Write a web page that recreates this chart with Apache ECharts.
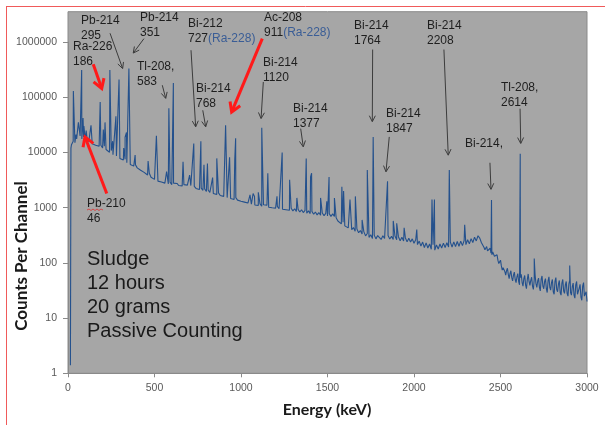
<!DOCTYPE html>
<html>
<head>
<meta charset="utf-8">
<script src="https://cdn.jsdelivr.net/npm/echarts@6/dist/echarts.min.js"></script>
<style>
  html, body { margin: 0; padding: 0; background: #ffffff; }
  #chart { width: 605px; height: 425px; }
</style>
</head>
<body>
<div id="chart"></div>
<script>
// Gamma spectrum of a sludge sample, 12 h passive count.
// Continuum sampled every 10 keV (counts per channel).
const continuumKeV = [
  14, 17, 20, 30, 40, 50, 60, 70, 80, 90, 100, 110, 120, 130, 140, 150, 160, 170, 180, 190,
  200, 210, 220, 230, 240, 250, 260, 270, 280, 290, 300, 310, 320, 330, 340, 350, 360, 370, 380, 390,
  400, 410, 420, 430, 440, 450, 460, 470, 480, 490, 500, 510, 520, 530, 540, 550, 560, 570, 580, 590,
  600, 610, 620, 630, 640, 650, 660, 670, 680, 690, 700, 710, 720, 730, 740, 750, 760, 770, 780, 790,
  800, 810, 820, 830, 840, 850, 860, 870, 880, 890, 900, 910, 920, 930, 940, 950, 960, 970, 980, 990,
  1000, 1010, 1020, 1030, 1040, 1050, 1060, 1070, 1080, 1090, 1100, 1110, 1120, 1130, 1140, 1150, 1160, 1170, 1180, 1190,
  1200, 1210, 1220, 1230, 1240, 1250, 1260, 1270, 1280, 1290, 1300, 1310, 1320, 1330, 1340, 1350, 1360, 1370, 1380, 1390,
  1400, 1410, 1420, 1430, 1440, 1450, 1460, 1470, 1480, 1490, 1500, 1510, 1520, 1530, 1540, 1550, 1560, 1570, 1580, 1590,
  1600, 1610, 1620, 1630, 1640, 1650, 1660, 1670, 1680, 1690, 1700, 1710, 1720, 1730, 1740, 1750, 1760, 1770, 1780, 1790,
  1800, 1810, 1820, 1830, 1840, 1850, 1860, 1870, 1880, 1890, 1900, 1910, 1920, 1930, 1940, 1950, 1960, 1970, 1980, 1990,
  2000, 2010, 2020, 2030, 2040, 2050, 2060, 2070, 2080, 2090, 2100, 2110, 2120, 2130, 2140, 2150, 2160, 2170, 2180, 2190,
  2200, 2210, 2220, 2230, 2240, 2250, 2260, 2270, 2280, 2290, 2300, 2310, 2320, 2330, 2340, 2350, 2360, 2370, 2380, 2390,
  2400, 2410, 2420, 2430, 2440, 2450, 2460, 2470, 2480, 2490, 2500, 2510, 2520, 2530, 2540, 2550, 2560, 2570, 2580, 2590,
  2600, 2610, 2620, 2630, 2640, 2650, 2660, 2670, 2680, 2690, 2700, 2710, 2720, 2730, 2740, 2750, 2760, 2770, 2780, 2790,
  2800, 2810, 2820, 2830, 2840, 2850, 2860, 2870, 2880, 2890, 2900, 2910, 2920, 2930, 2940, 2950, 2960, 2970, 2980, 2990,
  3000
];
const continuumCounts = [
  1.4, 12000, 13800, 15900, 15000, 17600, 17400, 19900, 17600, 19100, 16800, 18100, 15700, 16300, 14300, 15000, 13500, 14300, 12900, 13500,
  12100, 12900, 11300, 11700, 10100, 10800, 9100, 9800, 8600, 9200, 7800, 8200, 7300, 7500, 6500, 7000, 6050, 6500, 5650, 6000,
  5250, 5600, 4750, 5150, 4350, 4650, 3900, 4200, 3550, 3750, 3250, 3400, 3020, 3250, 2910, 3100, 2780, 3000, 2690, 2890,
  2620, 2780, 2600, 2740, 2520, 2690, 2480, 2610, 2430, 2560, 2360, 2510, 2310, 2430, 2230, 2350, 2130, 2260, 2060, 2180,
  1970, 2090, 1890, 2010, 1810, 1930, 1730, 1850, 1660, 1770, 1600, 1680, 1520, 1630, 1460, 1580, 1410, 1520, 1370, 1460,
  1310, 1410, 1260, 1360, 1210, 1310, 1160, 1250, 1120, 1210, 1090, 1170, 1060, 1130, 1040, 1110, 1020, 1090, 995, 1075,
  980, 1055, 955, 1035, 935, 1010, 915, 990, 895, 975, 875, 955, 855, 930, 835, 915, 815, 890, 795, 875,
  780, 855, 760, 835, 740, 815, 728, 800, 716, 790, 706, 780, 694, 770, 690, 655, 572, 590, 508, 545,
  468, 505, 430, 462, 398, 436, 372, 410, 352, 386, 332, 368, 308, 340, 290, 322, 276, 318, 272, 312,
  305, 266, 310, 276, 262, 314, 270, 302, 266, 306, 262, 298, 252, 290, 248, 286, 240, 280, 238, 272,
  226, 262, 214, 248, 202, 238, 190, 230, 186, 220, 176, 214, 170, 212, 178, 220, 186, 228, 190, 232,
  194, 238, 194, 240, 197, 244, 200, 248, 205, 255, 214, 262, 221, 275, 234, 292, 250, 310, 280, 232,
  214, 172, 198, 152, 184, 140, 168, 124, 140, 97, 112, 74, 88, 60, 80, 52, 72, 47, 68, 44,
  64, 40, 62, 38, 59, 34, 63, 39, 55, 33, 60, 36, 53, 31, 58, 34, 52, 29, 56, 32,
  50, 27, 54, 30, 48, 26, 50, 28, 46, 25, 48, 26, 43, 23, 46, 25, 41, 21, 44, 23,
  20
];
// Extra half-step channels across the noisy high-energy tail
const tailKeV = [
  2405, 2415, 2425, 2435, 2445, 2455, 2465, 2475, 2485, 2495, 2505, 2515, 2525, 2535, 2545, 2555, 2565, 2575, 2585, 2595,
  2605, 2615, 2625, 2635, 2645, 2655, 2665, 2675, 2685, 2695, 2705, 2715, 2725, 2735, 2745, 2755, 2765, 2775, 2785, 2795,
  2805, 2815, 2825, 2835, 2845, 2855, 2865, 2875, 2885, 2895, 2905, 2915, 2925, 2935, 2945, 2955, 2965, 2975, 2985, 2995
];
const tailCounts = [
  190, 186, 165, 170, 150, 158, 132, 138, 112, 104, 88, 82, 70, 72, 62, 64, 54, 60, 50, 56,
  46, 54, 44, 52, 40, 50, 46, 48, 38, 50, 42, 47, 36, 50, 38, 46, 34, 47, 36, 44,
  30, 46, 33, 41, 29, 43, 31, 40, 28, 41, 29, 37, 26, 40, 27, 35, 24, 38, 25, 30
];

// Photopeaks: energy (keV) and peak height (counts per channel)
const peakKeV = [
  31, 46, 60, 75, 79, 87, 92, 105, 133, 186, 204, 214, 242, 258, 277, 295, 322, 330, 338, 352,
  388, 463, 511, 570, 583, 609, 665, 703, 727, 768, 786, 806, 836, 860, 911, 934, 964, 969,
  1052, 1070, 1078, 1100, 1120, 1155, 1208, 1238, 1281, 1323, 1377, 1402, 1408, 1460, 1496, 1509,
  1540, 1583, 1593, 1630, 1661, 1700, 1730, 1764, 1847, 1880, 1900, 1943, 2016, 2104, 2118, 2204, 2293,
  2448, 2614, 2695, 2900
];
const peakCounts = [
  130000, 21000, 35000, 90000, 310000, 42000, 30000, 25000, 31000, 82000, 26000, 35000, 310000, 16000, 45000, 210000, 12000, 19000, 23000, 330000,
  9000, 7000, 20000, 4500, 63000, 180000, 6800, 3900, 14500, 16000, 6000, 6300, 3500, 7800, 31000, 8200, 7500, 18000,
  1700, 1800, 1600, 1900, 28000, 4200, 1600, 10000, 3200, 1500, 7800, 3600, 4200, 1500, 1300, 3600,
  1500, 2400, 2000, 1400, 1600, 600, 4800, 19000, 3000, 575, 520, 430, 400, 1400, 1400, 4800, 490,
  1380, 9500, 120, 90
];

// Axis tick labels
const xTickValues = [0, 500, 1000, 1500, 2000, 2500, 3000];
const xTickLabels = ['0', '500', '1000', '1500', '2000', '2500', '3000'];
const yTickValues = [1, 10, 100, 1000, 10000, 100000, 1000000];
const yTickLabels = ['1', '10', '100', '1000', '10000', '100000', '1000000'];

// Peak call-outs: label text and where it sits (px), arrow tail/head in (keV, counts)
const calloutText = [
  { t: 'Pb-214\n295', x: 81, y: 13 },
  { t: 'Ra-226\n186', x: 73, y: 39 },
  { t: 'Pb-214\n351', x: 140, y: 10 },
  { t: 'Tl-208,\n583', x: 137, y: 59 },
  { t: 'Bi-212\n727{b|(Ra-228)}', x: 188, y: 16 },
  { t: 'Bi-214\n768', x: 196, y: 81 },
  { t: 'Ac-208\n911{b|(Ra-228)}', x: 264, y: 10 },
  { t: 'Bi-214\n1120', x: 263, y: 55 },
  { t: 'Bi-214\n1377', x: 293, y: 101 },
  { t: 'Bi-214\n1764', x: 354, y: 18 },
  { t: 'Bi-214\n2208', x: 427, y: 18 },
  { t: 'Tl-208,\n2614', x: 501, y: 80 },
  { t: 'Bi-214\n1847', x: 386, y: 106 },
  { t: 'Bi-214,', x: 465, y: 136 },
  { t: 'Pb-210\n46', x: 87, y: 196 }
];
const arrowFrom = [
  [243, 1.44e6], [439, 1.15e6], [146, 3.95e5], [545, 1.65e5], [711, 7.1e5], [779, 5.8e4],
  [1123, 1.15e6], [1129, 1.89e5], [224, 1810], [1345, 2.7e4], [1761, 7.3e5], [2173, 7.3e5],
  [1857, 1.91e4], [2613, 6.2e4], [2439, 6500]
];
const arrowTo = [
  [316, 3.3e5], [377, 6.3e5], [195, 1.44e5], [565, 9.5e4], [738, 2.9e4], [796, 2.9e4],
  [946, 5.4e4], [1116, 4.1e4], [98, 1.91e4], [1360, 1.26e4], [1759, 3.6e4], [2198, 8900],
  [1838, 4450], [2617, 1.45e4], [2445, 2140]
];
const arrowRed = [false, false, true, false, false, false, true, false, true, false, false, false, false, false, false];

const sampleNote = ['Sludge', '12 hours', '20 grams', 'Passive Counting'];

// Merge continuum, tail channels and photopeaks into one channel-ordered trace
const merged = [];
continuumKeV.forEach((e, i) => merged.push([e, continuumCounts[i], 0]));
tailKeV.forEach((e, i) => merged.push([e, tailCounts[i], 0]));
peakKeV.forEach((e, i) => merged.push([e, peakCounts[i], 1]));
merged.sort((a, b) => (a[0] - b[0]) || (a[2] - b[2]));
const spectrum = merged.map(p => [p[0], p[1]]);

const chart = echarts.init(document.getElementById('chart'), null, { renderer: 'canvas' });

const labelFont = 'Liberation Sans, Arial, sans-serif';
chart.setOption({
  animation: false,
  grid: { left: 68, right: 18, top: 42, bottom: 51.7, containLabel: false },
  xAxis: {
    type: 'value', min: 0, max: 3000, interval: 500,
    axisLine: { show: true, lineStyle: { color: '#8a8a8a', width: 1 } },
    axisTick: { show: true, length: 4, lineStyle: { color: '#8a8a8a' } },
    axisLabel: {
      color: '#595959', fontFamily: labelFont, fontSize: 10.5, margin: 9,
      formatter: v => { const k = xTickValues.indexOf(v); return k >= 0 ? xTickLabels[k] : ''; }
    },
    splitLine: { show: false }
  },
  yAxis: {
    type: 'log', logBase: 10, min: 1, max: 1000000,
    axisLine: { show: true, lineStyle: { color: '#8a8a8a', width: 1 } },
    axisTick: { show: true, length: 5, lineStyle: { color: '#8a8a8a' } },
    axisLabel: {
      color: '#595959', fontFamily: labelFont, fontSize: 10.5, margin: 11,
      formatter: v => { const k = yTickValues.findIndex(t => Math.abs(t - v) / t < 1e-6); return k >= 0 ? yTickLabels[k] : ''; }
    },
    splitLine: { show: false },
    minorTick: { show: false }
  },
  series: [{
    type: 'line',
    data: spectrum,
    showSymbol: false,
    symbol: 'none',
    sampling: 'none',
    clip: true,
    z: 3,
    lineStyle: { color: '#24518d', width: 1.1 }
  }]
});

// Overlay: frame, plot background, call-outs, axis titles
const g = [];
g.push({ type: 'rect', z: -10, silent: true,
  shape: { x: 68, y: 11.7, width: 519, height: 361.6 },
  style: { fill: '#a6a6a6', stroke: '#8a8a8a', lineWidth: 1 } });
g.push({ type: 'line', z: 50, shape: { x1: 6, y1: 6.5, x2: 605, y2: 6.5 }, style: { stroke: '#f05a5a', lineWidth: 1 } });
g.push({ type: 'line', z: 50, shape: { x1: 6.5, y1: 6, x2: 6.5, y2: 425 }, style: { stroke: '#f05a5a', lineWidth: 1 } });

calloutText.forEach(c => {
  g.push({ type: 'text', z: 60, x: c.x, y: c.y,
    style: { text: c.t, fill: '#1e1e1e', font: '12px ' + labelFont, lineHeight: 15,
      verticalAlign: 'top', align: 'left',
      rich: { b: { fill: '#3a5d96', font: '12px ' + labelFont, lineHeight: 15 } } } });
});
// spell-check squiggle under "Pb"
g.push({ type: 'polyline', z: 61, shape: { points: [[87,210],[89,209],[91,210.5],[93,209],[95,210.5],[97,209],[99,210.5],[101,209],[103,210]] },
  style: { stroke: '#e03030', lineWidth: 0.8, fill: null } });

arrowFrom.forEach((f, i) => {
  const p1 = chart.convertToPixel({ gridIndex: 0 }, f);
  const p2 = chart.convertToPixel({ gridIndex: 0 }, arrowTo[i]);
  const red = arrowRed[i];
  const col = red ? '#ff1a1a' : '#3c3c3c';
  const w = red ? 3 : 1;
  const hl = red ? 9 : 6, hw = red ? 5.5 : 3;
  const dx = p2[0] - p1[0], dy = p2[1] - p1[1];
  const len = Math.hypot(dx, dy), ux = dx / len, uy = dy / len;
  const bx = p2[0] - ux * hl, by = p2[1] - uy * hl;
  g.push({ type: 'line', z: 55, shape: { x1: p1[0], y1: p1[1], x2: p2[0] - ux * (red ? 1.5 : 0.5), y2: p2[1] - uy * (red ? 1.5 : 0.5) },
    style: { stroke: col, lineWidth: w } });
  g.push({ type: 'polyline', z: 55, shape: { points: [[bx - uy * hw, by + ux * hw], [p2[0], p2[1]], [bx + uy * hw, by - ux * hw]] },
    style: { stroke: col, lineWidth: w, fill: null, lineJoin: 'miter' } });
});

sampleNote.forEach((s, i) => {
  g.push({ type: 'text', z: 60, x: 87, y: 259.3 + i * 24,
    style: { text: s, fill: '#1a1a1a', font: '20px ' + labelFont, verticalAlign: 'middle', align: 'left' } });
});

g.push({ type: 'text', z: 60, x: 327, y: 410,
  style: { text: 'Energy (keV)', fill: '#1a1a1a', font: 'bold 16px Lato, sans-serif', align: 'center', verticalAlign: 'middle' } });
g.push({ type: 'text', z: 60, x: 22, y: 256, rotation: Math.PI / 2,
  style: { text: 'Counts Per Channel', fill: '#1a1a1a', font: 'bold 17px Lato, sans-serif', align: 'center', verticalAlign: 'middle' } });

chart.setOption({ graphic: g });
</script>
</body>
</html>
